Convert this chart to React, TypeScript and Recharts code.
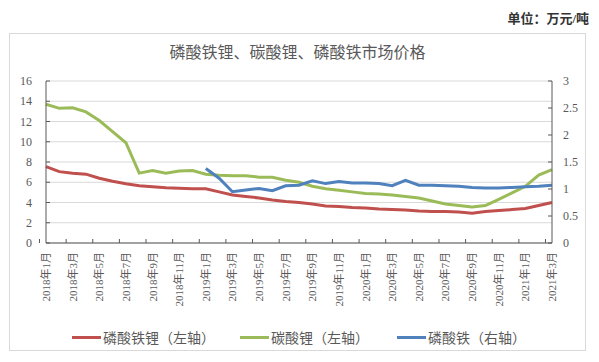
import { LineChart, Line, XAxis, YAxis, CartesianGrid } from "recharts";

const months = [
  "2018年1月", "2018年2月", "2018年3月", "2018年4月", "2018年5月", "2018年6月",
  "2018年7月", "2018年8月", "2018年9月", "2018年10月", "2018年11月", "2018年12月",
  "2019年1月", "2019年2月", "2019年3月", "2019年4月", "2019年5月", "2019年6月",
  "2019年7月", "2019年8月", "2019年9月", "2019年10月", "2019年11月", "2019年12月",
  "2020年1月", "2020年2月", "2020年3月", "2020年4月", "2020年5月", "2020年6月",
  "2020年7月", "2020年8月", "2020年9月", "2020年10月", "2020年11月", "2020年12月",
  "2021年1月", "2021年2月", "2021年3月",
];

// 磷酸铁锂, 万元/吨 (left axis)
const lfpPrice = [
  7.55, 7.05, 6.9, 6.8, 6.4, 6.1, 5.85, 5.65, 5.55, 5.45, 5.4, 5.35,
  5.35, 5.05, 4.75, 4.6, 4.45, 4.25, 4.1, 4.0, 3.85, 3.65, 3.6, 3.5,
  3.45, 3.35, 3.3, 3.25, 3.15, 3.1, 3.1, 3.05, 2.95, 3.1, 3.2, 3.3,
  3.4, 3.7, 4.0,
];

// 碳酸锂, 万元/吨 (left axis)
const li2co3Price = [
  13.7, 13.3, 13.35, 12.95, 12.1, 11.0, 9.9, 6.9, 7.15, 6.9, 7.1, 7.15,
  6.8, 6.7, 6.65, 6.65, 6.5, 6.5, 6.2, 6.0, 5.6, 5.35, 5.2, 5.05,
  4.9, 4.85, 4.75, 4.6, 4.45, 4.15, 3.85, 3.7, 3.55, 3.7, 4.3, 4.95,
  5.6, 6.7, 7.25,
];

// 磷酸铁, 万元/吨 (right axis), no data before 2019
const fepo4Price = [
  null, null, null, null, null, null, null, null, null, null, null, null,
  1.38, 1.2, 0.95, 0.98, 1.01, 0.97, 1.06, 1.07, 1.15, 1.1, 1.14, 1.11,
  1.11, 1.1, 1.06, 1.16, 1.07, 1.07, 1.06, 1.05, 1.03, 1.02, 1.02, 1.03,
  1.04, 1.05, 1.07,
];

const leftTicks = [0, 2, 4, 6, 8, 10, 12, 14, 16];
const rightTicks = [0, 0.5, 1, 1.5, 2, 2.5, 3];

const RED = "#C0504D";
const GREEN = "#9BBB59";
const BLUE = "#4F81BD";
const AXIS = "#595959";
const TEXT = "#595959";
const FONT = '"Liberation Serif", "Noto Sans CJK SC", serif';

const data = months.map((m, i) => ({
  month: m,
  lfp: lfpPrice[i],
  li2co3: li2co3Price[i],
  fepo4: fepo4Price[i],
}));

const PLOT_W = 507;

function MonthTick(props: any) {
  const { x, y, payload } = props;
  if (payload.index % 2 !== 0) return null;
  const band = PLOT_W / months.length;
  return (
    <g>
      <line x1={x - band / 2} x2={x - band / 2} y1={y} y2={y - 4} stroke={AXIS} />
      <text
        transform={`translate(${x + 4},${y + 9}) rotate(-90)`}
        textAnchor="end"
        fontSize={11}
        fontFamily={FONT}
        fill={TEXT}
      >
        {payload.value}
      </text>
    </g>
  );
}

function LeftTick(props: any) {
  const { x, y, payload } = props;
  return (
    <g>
      <line x1={x} x2={x + 4} y1={y} y2={y} stroke={AXIS} />
      <text x={x - 14} y={y + 4} textAnchor="end" fontSize={12} fontFamily={FONT} fill={TEXT}>
        {payload.value}
      </text>
    </g>
  );
}

function RightTick(props: any) {
  const { x, y, payload } = props;
  return (
    <g>
      <line x1={x} x2={x - 4} y1={y} y2={y} stroke={AXIS} />
      <text x={x + 11} y={y + 4} textAnchor="start" fontSize={12} fontFamily={FONT} fill={TEXT}>
        {payload.value}
      </text>
    </g>
  );
}

const legendItems = [
  { name: "磷酸铁锂（左轴）", color: RED, left: 72 },
  { name: "碳酸锂（左轴）", color: GREEN, left: 240 },
  { name: "磷酸铁（右轴）", color: BLUE, left: 397 },
];

export default function App() {
  return (
    <div
      style={{
        position: "absolute",
        left: 0,
        top: 0,
        width: 599,
        height: 362,
        background: "#fff",
        fontFamily: FONT,
        overflow: "hidden",
      }}
    >
      <div
        style={{
          position: "absolute",
          right: 10,
          top: 8,
          fontSize: 13,
          color: "#333",
          fontWeight: "bold",
        }}
      >
        单位：万元/吨
      </div>
      <div
        style={{
          position: "absolute",
          left: 9,
          top: 33,
          width: 577,
          height: 318,
          border: "1px solid #d9d9d9",
          boxSizing: "border-box",
        }}
      />
      <div
        style={{
          position: "absolute",
          left: 9,
          top: 39,
          width: 577,
          textAlign: "center",
          fontSize: 16,
          color: TEXT,
        }}
      >
        磷酸铁锂、碳酸锂、磷酸铁市场价格
      </div>
      <div style={{ position: "absolute", left: 0, top: 0 }}>
        <LineChart
          width={599}
          height={362}
          data={data}
          margin={{ top: 81, right: 7, bottom: 59, left: 10 }}
        >
          <CartesianGrid yAxisId="left" vertical={false} stroke="#d9d9d9" />
          <XAxis
            dataKey="month"
            interval={0}
            height={60}
            tickLine={false}
            tickSize={0}
            tickMargin={0}
            stroke={AXIS}
            tick={<MonthTick />}
          />
          <YAxis
            yAxisId="left"
            width={36}
            domain={[0, 16]}
            ticks={leftTicks}
            interval={0}
            tickLine={false}
            tickSize={0}
            tickMargin={0}
            stroke={AXIS}
            tick={<LeftTick />}
          />
          <YAxis
            yAxisId="right"
            orientation="right"
            width={40}
            domain={[0, 3]}
            ticks={rightTicks}
            interval={0}
            tickLine={false}
            tickSize={0}
            tickMargin={0}
            stroke={AXIS}
            tick={<RightTick />}
          />
          <Line
            yAxisId="left"
            type="linear"
            dataKey="lfp"
            name="磷酸铁锂（左轴）"
            stroke={RED}
            strokeWidth={3}
            dot={false}
            isAnimationActive={false}
          />
          <Line
            yAxisId="left"
            type="linear"
            dataKey="li2co3"
            name="碳酸锂（左轴）"
            stroke={GREEN}
            strokeWidth={3}
            dot={false}
            isAnimationActive={false}
          />
          <Line
            yAxisId="right"
            type="linear"
            dataKey="fepo4"
            name="磷酸铁（右轴）"
            stroke={BLUE}
            strokeWidth={3}
            dot={false}
            isAnimationActive={false}
          />
        </LineChart>
      </div>
      {legendItems.map((it) => (
        <div
          key={it.name}
          style={{
            position: "absolute",
            left: it.left,
            top: 327,
            display: "flex",
            alignItems: "center",
            fontSize: 14,
            color: TEXT,
            whiteSpace: "nowrap",
          }}
        >
          <span
            style={{ display: "inline-block", width: 29, height: 3, background: it.color, marginRight: 2 }}
          />
          {it.name}
        </div>
      ))}
    </div>
  );
}
